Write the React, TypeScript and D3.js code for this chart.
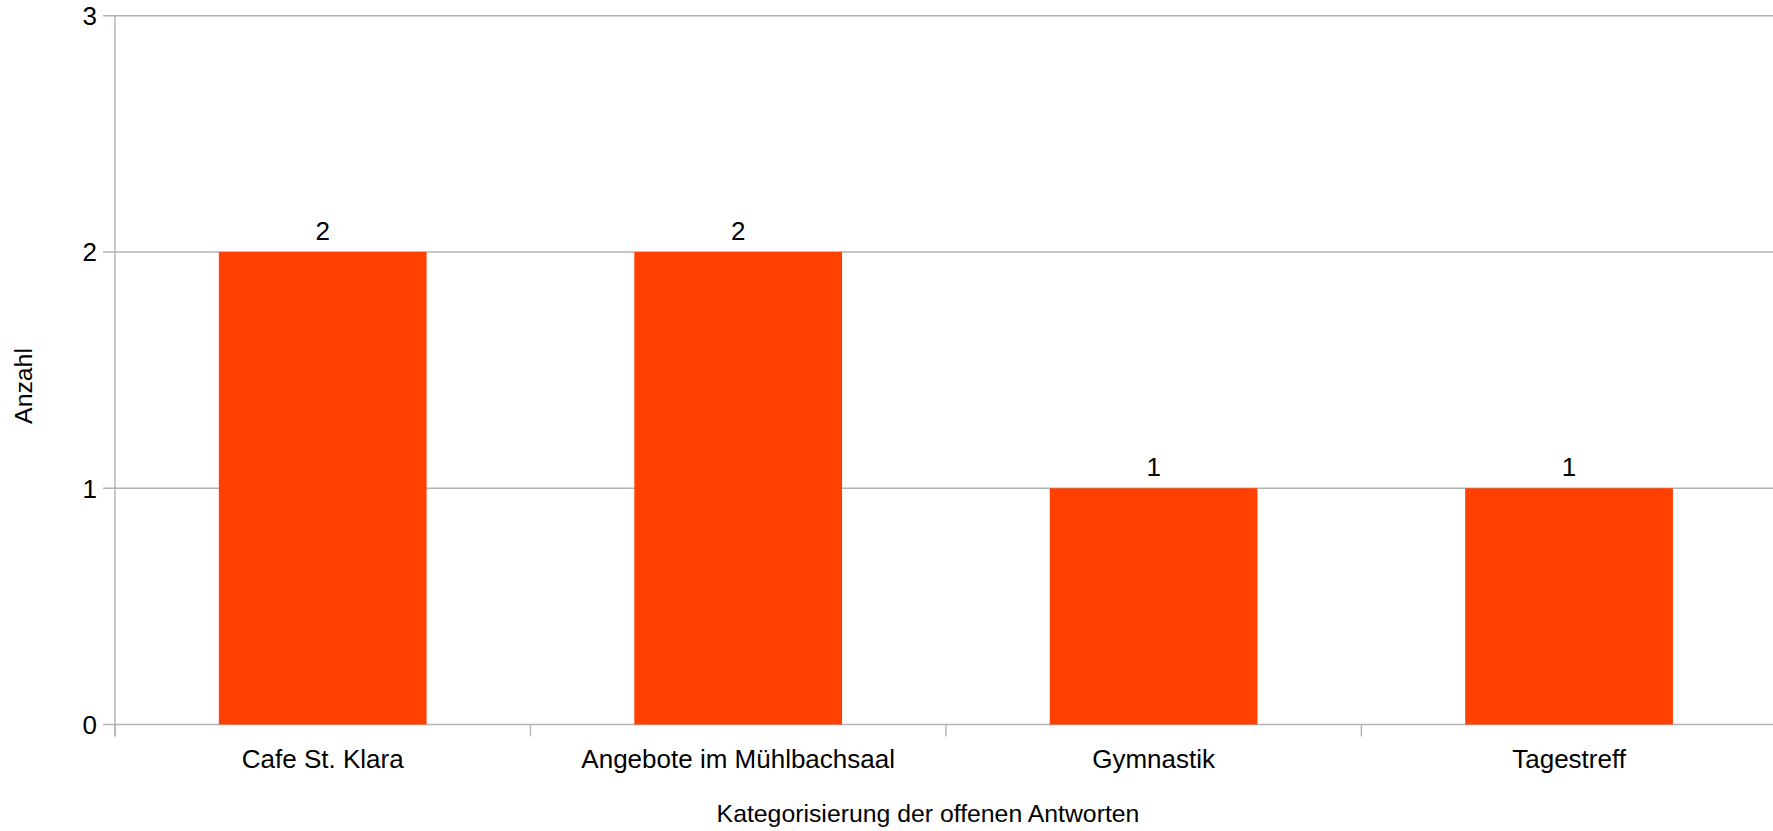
import React from "react";
import * as d3 from "d3";

const categories: string[] = ["Cafe St. Klara", "Angebote im Mühlbachsaal", "Gymnastik", "Tagestreff"];
const values: number[] = [2, 2, 1, 1];
const yTicks: number[] = [0, 1, 2, 3];
const xTitle = "Kategorisierung der offenen Antworten";
const yTitle = "Anzahl";

const W = 1773;
const H = 831;
const M = { left: 115, top: 15.7, right: 1776.8, bottom: 724.5 };
const FONT = "'Liberation Sans', Arial, sans-serif";
const GRID = "#b3b3b3";
const BAR = "#ff4000";

export default function App() {
  const x = d3.scaleBand<string>().domain(categories).range([M.left, M.right]).paddingInner(0).paddingOuter(0);
  const y = d3.scaleLinear().domain([0, 3]).range([M.bottom, M.top]);
  const bw = x.bandwidth();
  const barW = bw * 0.5;
  const boundaries = categories.map((c) => x(c) as number);

  return (
    <svg
      width={W}
      height={H}
      style={{ position: "absolute", left: 0, top: 0, background: "#fff" }}
      fontFamily={FONT}
    >
      <rect x={0} y={0} width={W} height={H} fill="#fff" />
      {/* gridlines */}
      {yTicks.map((t) => (
        <line key={"g" + t} x1={M.left - 12} x2={W} y1={y(t)} y2={y(t)} stroke={GRID} strokeWidth={1.4} />
      ))}
      {/* y axis */}
      <line x1={M.left} x2={M.left} y1={M.top} y2={M.bottom + 12} stroke={GRID} strokeWidth={1.4} />
      {/* x ticks */}
      {boundaries.map((b, i) => (
        <line key={"xt" + i} x1={b} x2={b} y1={M.bottom} y2={M.bottom + 12} stroke={GRID} strokeWidth={1.4} />
      ))}
      {/* bars */}
      {categories.map((c, i) => {
        const cx = (x(c) as number) + bw / 2;
        return (
          <g key={"b" + c}>
            <rect x={cx - barW / 2} y={y(values[i])} width={barW} height={y(0) - y(values[i])} fill={BAR} />
            <text x={cx} y={y(values[i]) - 12} textAnchor="middle" fontSize={26} fill="#000">
              {values[i]}
            </text>
          </g>
        );
      })}
      {/* y tick labels */}
      {yTicks.map((t) => (
        <text key={"yl" + t} x={97} y={y(t)} dy="0.36em" textAnchor="end" fontSize={26} fill="#000">
          {t}
        </text>
      ))}
      {/* x tick labels */}
      {categories.map((c) => (
        <text key={"xl" + c} x={(x(c) as number) + bw / 2} y={768} textAnchor="middle" fontSize={26} fill="#000">
          {c}
        </text>
      ))}
      {/* axis titles */}
      <text x={928} y={822} textAnchor="middle" fontSize={24.8} fill="#000">
        {xTitle}
      </text>
      <text transform={`translate(32,386) rotate(-90)`} textAnchor="middle" fontSize={24.8} fill="#000">
        {yTitle}
      </text>
    </svg>
  );
}
